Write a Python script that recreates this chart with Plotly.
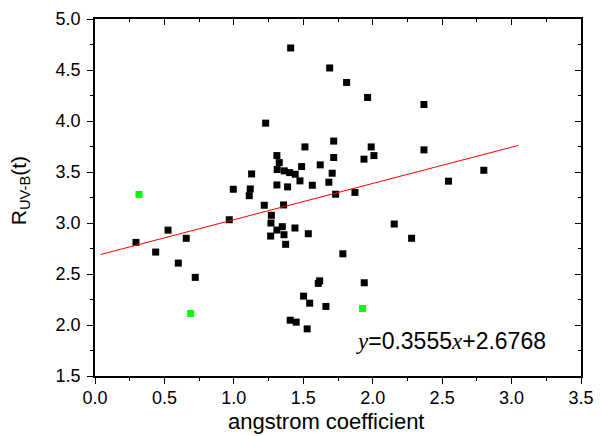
import plotly.graph_objects as go

# Black data points (angstrom coefficient, R_UV-B(t))
black_x = [0.295, 0.437, 0.526, 0.600, 0.657, 0.722, 0.967, 0.996, 1.118, 1.111,
           1.128, 1.219, 1.229, 1.270, 1.267, 1.265, 1.310, 1.349, 1.361, 1.373,
           1.310, 1.358, 1.310, 1.327, 1.312, 1.363, 1.402, 1.442, 1.387, 1.409,
           1.690, 1.812, 1.963, 1.719, 1.512, 1.989, 2.009, 1.937, 1.719, 1.488,
           1.622, 1.708, 1.684, 1.476, 1.565, 1.733, 1.872, 1.440, 1.536, 2.155,
           2.280, 1.785, 1.618, 1.608, 1.939, 1.502, 1.546, 1.663, 1.406, 1.449,
           1.528, 2.369, 2.369, 2.546, 2.800]
black_y = [2.810, 2.715, 2.930, 2.607, 2.850, 2.467, 3.032, 3.331, 3.334, 3.268,
           3.481, 3.174, 3.979, 3.076, 3.000, 2.872, 2.931, 2.964, 2.885, 2.791,
           3.373, 3.177, 3.661, 3.592, 3.524, 3.511, 3.494, 3.478, 3.354, 4.716,
           4.520, 4.378, 4.231, 3.803, 3.746, 3.746, 3.661, 3.626, 3.642, 3.553,
           3.570, 3.488, 3.400, 3.413, 3.370, 3.282, 3.300, 2.951, 2.895, 2.990,
           2.850, 2.698, 2.433, 2.408, 2.414, 2.283, 2.214, 2.182, 2.047, 2.028,
           1.962, 4.162, 3.717, 3.410, 3.517]

# Green data points
green_x = [0.317, 0.689, 1.927]
green_y = [3.280, 2.113, 2.162]

# Linear fit shown in the chart
fit_slope = 0.3555
fit_intercept = 2.6768
fit_x = [0.04, 3.05]
fit_y = [fit_slope * v + fit_intercept for v in fit_x]

x_range = [0, 3.5]
y_range = [1.5, 5.0]
x_ticks = [0.0, 0.5, 1.0, 1.5, 2.0, 2.5, 3.0, 3.5]
y_ticks = [1.5, 2.0, 2.5, 3.0, 3.5, 4.0, 4.5, 5.0]

x_title = "angstrom coefficient"
y_title = "R<sub>UV-B</sub>(t)"
eq_text = ('<span style="font-family:Liberation Serif, Times New Roman, serif"><i>y</i></span>=0.3555'
           '<span style="font-family:Liberation Serif, Times New Roman, serif"><i>x</i></span>+2.6768')

FONT = "Liberation Sans, Arial, sans-serif"

fig = go.Figure()
fig.add_trace(go.Scatter(x=black_x, y=black_y, mode="markers",
                         marker=dict(symbol="square", size=7, color="black"),
                         showlegend=False))
fig.add_trace(go.Scatter(x=green_x, y=green_y, mode="markers",
                         marker=dict(symbol="square", size=7, color="#00ff00"),
                         showlegend=False))
fig.add_trace(go.Scatter(x=fit_x, y=fit_y, mode="lines",
                         line=dict(color="red", width=1), showlegend=False))
# invisible trace for mirrored (inside-tick) top/right axes
fig.add_trace(go.Scatter(x=[None], y=[None], xaxis="x2", yaxis="y2",
                         showlegend=False, hoverinfo="skip"))

common_axis = dict(showgrid=False, zeroline=False, showline=True,
                   linecolor="black", linewidth=1.5, tickcolor="black",
                   tickwidth=1.2, automargin=False)

fig.update_layout(
    width=603, height=436,
    margin=dict(l=95, r=22, t=19, b=60),
    paper_bgcolor="white", plot_bgcolor="white",
    font=dict(family=FONT, color="black", size=18),
    xaxis=dict(range=x_range, tickvals=x_ticks,
               ticktext=[f"{v:.1f}" for v in x_ticks],
               ticks="outside", ticklen=6, ticklabelstandoff=-1,
               minor=dict(ticks="outside", ticklen=3.5, dtick=0.25, tick0=0,
                          tickcolor="black", tickwidth=1.2),
               **common_axis),
    yaxis=dict(range=y_range, tickvals=y_ticks,
               ticktext=[f"{v:.1f}" for v in y_ticks],
               ticks="outside", ticklen=6, ticklabelstandoff=3,
               minor=dict(ticks="outside", ticklen=3.5, dtick=0.25, tick0=0,
                          tickcolor="black", tickwidth=1.2),
               **common_axis),
    xaxis2=dict(range=x_range, overlaying="x", side="top", anchor="y2",
                tickvals=x_ticks, showticklabels=False,
                ticks="inside", ticklen=6,
                minor=dict(ticks="inside", ticklen=3.5, dtick=0.25, tick0=0,
                           tickcolor="black", tickwidth=1.2),
                **common_axis),
    yaxis2=dict(range=y_range, overlaying="y", side="right", anchor="x2",
                tickvals=y_ticks, showticklabels=False,
                ticks="inside", ticklen=6,
                minor=dict(ticks="inside", ticklen=3.5, dtick=0.25, tick0=0,
                           tickcolor="black", tickwidth=1.2),
                **common_axis),
    annotations=[
        dict(x=2.563, y=1.841, xref="x", yref="y", showarrow=False,
             text=eq_text, font=dict(size=23, family=FONT, color="black"),
             xanchor="center", yanchor="middle"),
        dict(x=0.475, y=-0.128, xref="paper", yref="paper", showarrow=False,
             text=x_title, font=dict(size=22, family=FONT, color="black"),
             xanchor="center", yanchor="middle"),
        dict(x=-0.154, y=0.518, xref="paper", yref="paper", showarrow=False,
             text=y_title, textangle=-90,
             font=dict(size=21, family=FONT, color="black"),
             xanchor="center", yanchor="middle"),
    ],
)

fig.write_html("out.html",
               config={"displayModeBar": False},
               post_script="document.body.style.margin='0px';"
                           "document.body.style.overflow='hidden';")
